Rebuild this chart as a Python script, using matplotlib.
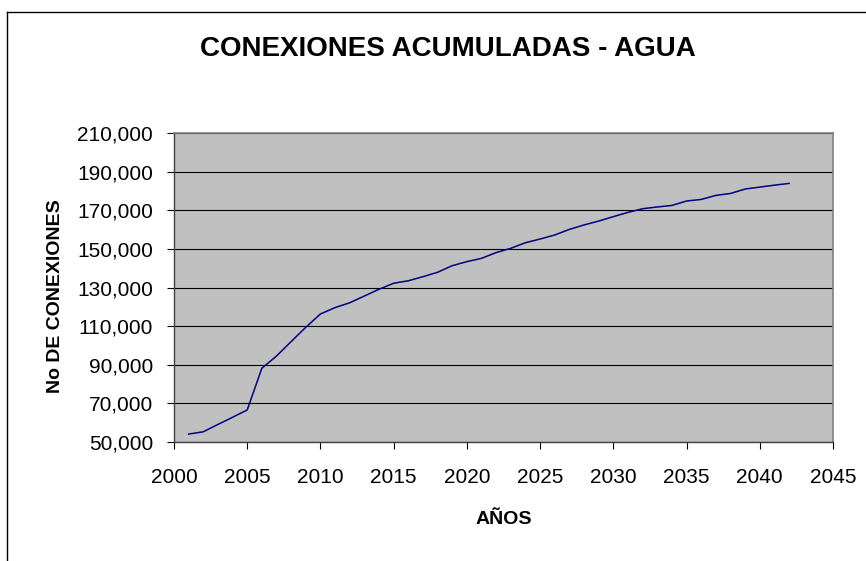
import numpy as np
import matplotlib as mpl
mpl.use('Agg')
from matplotlib import pyplot as plt
from matplotlib.ticker import FuncFormatter

# data
years = np.arange(2001, 2043)
conexiones = [54100, 55300, 59100, 62800, 66600, 88200, 94500, 102000, 109400, 116300,
              119600, 122100, 125600, 129100, 132200, 133500, 135600, 137900, 141300, 143400,
              145100, 148100, 150300, 153200, 155100, 157200, 160100, 162400, 164400, 166700,
              168900, 170800, 171700, 172500, 174800, 175600, 177700, 178700, 181000, 182000,
              183000, 183900]
yticks = np.arange(50000, 210001, 20000)
xticks = np.arange(2000, 2046, 5)

plt.rcParams['font.family'] = ['Liberation Sans', 'DejaVu Sans']

fig = plt.figure(figsize=(8.66, 5.61), dpi=100)
ax = fig.add_axes([0.2009, 0.2121, 0.761, 0.5508])

#outer chart frame (only top and left visible in the crop)
fig.add_artist(plt.Line2D([7/866, 7/866], [0, 1 - 12/561], color='black', lw=1.0,
                          transform=fig.transFigure))
fig.add_artist(plt.Line2D([7/866, 1], [1 - 12/561, 1 - 12/561], color='black', lw=1.0,
                          transform=fig.transFigure))

ax.set_facecolor('#C0C0C0')
ax.plot(years, conexiones, color='#000080', lw=1.1, zorder=3)

ax.set_xlim(2000, 2045)
ax.set_ylim(50000, 210000)
ax.set_xticks(xticks)
ax.set_yticks(yticks)
ax.yaxis.set_major_formatter(FuncFormatter(lambda v, p: '{:,.0f}'.format(v)))
ax.grid(axis='y', color='black', lw=0.8)
ax.set_axisbelow(True)

for side in ['top', 'right']:
    ax.spines[side].set_color('#808080')
    ax.spines[side].set_linewidth(1.2)
for side in ['bottom', 'left']:
    ax.spines[side].set_color('#404040')
    ax.spines[side].set_linewidth(1.0)

ax.tick_params(axis='both', direction='out', length=5, width=0.8, color='black', labelsize=15)
ax.tick_params(axis='y', pad=10)
ax.tick_params(axis='x', pad=14)

fig.text(448/866, 1 - 48.5/561, 'CONEXIONES ACUMULADAS - AGUA', ha='center', va='center',
         fontsize=20, fontweight='bold')
fig.text(504/866, 1 - 520/561, 'AÑOS', ha='center', va='center', fontsize=14, fontweight='bold')
fig.text(55/866, 1 - 296/561, 'No DE CONEXIONES', ha='center', va='center', rotation=90,
         fontsize=14, fontweight='bold')

fig.savefig('out.png', dpi=100)
